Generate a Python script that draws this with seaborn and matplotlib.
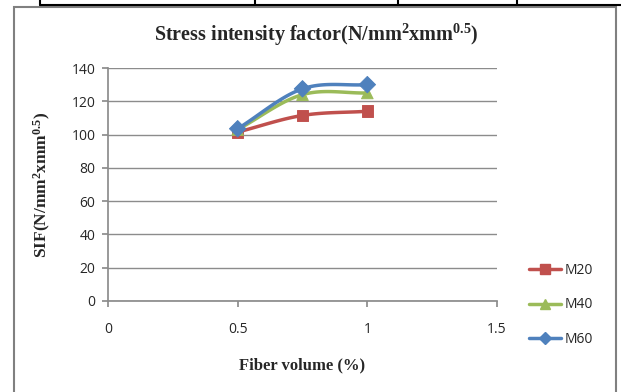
import numpy as np
import pandas as pd
import matplotlib
matplotlib.use('Agg')
import matplotlib.pyplot as plt
from matplotlib.lines import Line2D
from matplotlib.patches import Rectangle
import seaborn as sns

# data
FIBER = [0.5, 0.75, 1.0]
M20 = [101.5, 111.5, 114.0]
M40 = [103.0, 124.0, 125.0]
M60 = [103.5, 127.5, 130.0]
SERIES = ['M20', 'M40', 'M60']
COLORS = {'M20': '#C0504D', 'M40': '#9BBB59', 'M60': '#4F81BD'}
MARKERS = {'M20': 's', 'M40': '^', 'M60': 'D'}
MSIZE = {'M20': 8, 'M40': 8, 'M60': 7}

df = pd.DataFrame({'Fiber': FIBER * 3,
                   'SIF': M20 + M40 + M60,
                   'Mix': ['M20'] * 3 + ['M40'] * 3 + ['M60'] * 3})

sns.set_theme(style='white')
plt.rcParams['font.family'] = ['Open Sans', 'DejaVu Sans']
plt.rcParams['mathtext.fontset'] = 'custom'
plt.rcParams['mathtext.bf'] = 'Liberation Serif:bold'
plt.rcParams['mathtext.rm'] = 'Liberation Serif:bold'
plt.rcParams['mathtext.default'] = 'bf'


def smooth(x, y, n=30):
    # Catmull-Rom style smoothing like Excel's smoothed line
    x = np.asarray(x, float)
    y = np.asarray(y, float)
    px = np.concatenate([[2 * x[0] - x[1]], x, [2 * x[-1] - x[-2]]])
    py = np.concatenate([[2 * y[0] - y[1]], y, [2 * y[-1] - y[-2]]])
    xs, ys = [], []
    for i in range(1, len(px) - 2):
        t = np.linspace(0, 1, n)
        for arr, out in ((px, xs), (py, ys)):
            p0, p1, p2, p3 = arr[i - 1:i + 3]
            out.extend(0.5 * ((2 * p1) + (-p0 + p2) * t +
                              (2 * p0 - 5 * p1 + 4 * p2 - p3) * t ** 2 +
                              (-p0 + 3 * p1 - 3 * p2 + p3) * t ** 3))
    return xs, ys


W, H = 621, 392
fig = plt.figure(figsize=(W / 100, H / 100), dpi=100)
# outer chart border
fig.add_artist(Rectangle((14 / W, -0.05), 602 / W, (H - 7) / H + 0.05, transform=fig.transFigure,
                         fill=False, edgecolor='#808080', lw=1.5))
# fragment of the table above the chart
fig.add_artist(Line2D([40 / W, 1.0], [1 - 5 / H, 1 - 5 / H], transform=fig.transFigure,
                      color='black', lw=1.5))
for xp in [40, 255, 398, 517]:
    fig.add_artist(Line2D([xp / W, xp / W], [1.0, 1 - 5 / H],
                          transform=fig.transFigure, color='black', lw=1.5))

ax = fig.add_axes([108 / W, 1 - 301 / H, 389 / W, 233 / H])

for name in SERIES:
    sub = df[df['Mix'] == name]
    xs, ys = smooth(sub['Fiber'], sub['SIF'])
    ax.plot(xs, ys, color=COLORS[name], lw=2.5, zorder=3)
sns.scatterplot(data=df, x='Fiber', y='SIF', hue='Mix', style='Mix',
                palette=COLORS, markers=MARKERS, s=70, edgecolor=None,
                legend=False, ax=ax, zorder=4)

ax.set_xlim(0, 1.5)
ax.set_ylim(0, 140)
ax.set_xticks([0, 0.5, 1, 1.5])
ax.set_xticklabels(['0', '0.5', '1', '1.5'])
ax.set_yticks(range(0, 141, 20))
ax.yaxis.grid(True, color='#8c8c8c', lw=1)
ax.set_axisbelow(True)
for s in ['top', 'right']:
    ax.spines[s].set_visible(False)
for s in ['left', 'bottom']:
    ax.spines[s].set_color('#8c8c8c')
ax.tick_params(axis='both', which='both', length=4, color='#8c8c8c',
               direction='out', labelsize=10, labelcolor='#262626', pad=5)
ax.tick_params(axis='x', pad=11)
ax.tick_params(axis='y', left=True)
ax.tick_params(axis='x', bottom=True)

ax.set_xlabel('Fiber volume (%)', fontfamily='Liberation Serif', fontweight='bold',
              fontsize=12, labelpad=15)
ax.set_ylabel(r'SIF(N/mm$^{2}$xmm$^{0.5}$)', fontfamily='Liberation Serif',
              fontweight='bold', fontsize=12.5)
ax.yaxis.set_label_coords(-0.141, 0.5)
fig.text(316 / W, 1 - 35 / H, r'Stress intensity factor(N/mm$^{2}$xmm$^{0.5}$)',
         ha='center', va='center', fontfamily='Liberation Serif', fontweight='bold',
         fontsize=14.5)

handles = [Line2D([], [], color=COLORS[n], marker=MARKERS[n], lw=2.5,
                  markersize=MSIZE[n] - 1) for n in SERIES]
fig.legend(handles, SERIES, loc='center left', bbox_to_anchor=(522 / W, 1 - 305 / H),
           frameon=False, fontsize=10, handlelength=2.3, labelspacing=1.4,
           handletextpad=0.3, borderpad=0)

fig.savefig('out.png', dpi=100)
